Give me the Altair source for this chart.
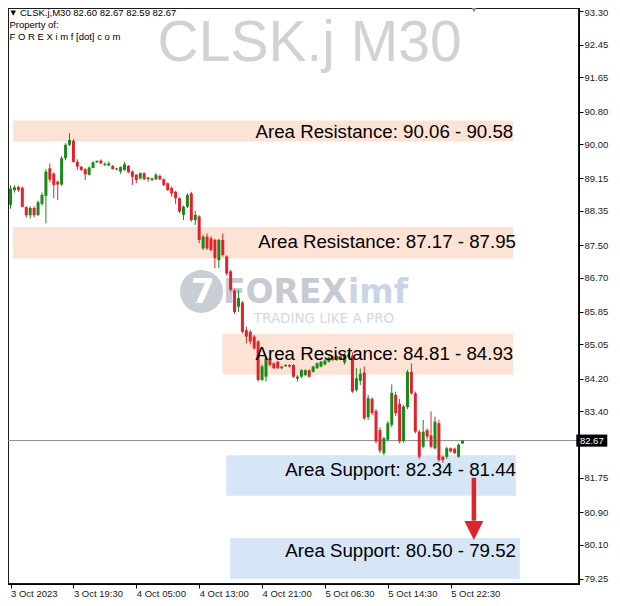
import json
import altair as alt
import pandas as pd

# ---------------- data ----------------
opens = [88.50, 88.86, 88.94, 88.92, 88.44, 88.24, 88.42, 88.25, 88.52, 88.72,
         89.40, 89.27, 89.07, 89.00, 89.65, 89.98, 90.08, 89.56, 89.44, 89.38,
         89.24, 89.41, 89.55, 89.59, 89.48, 89.47, 89.46, 89.37, 89.32, 89.36,
         89.46, 89.32, 89.24, 89.15, 89.28, 89.13, 89.15, 89.13, 89.21, 89.13,
         89.03, 88.91, 88.82, 88.66, 88.25, 88.45, 88.78, 88.12, 88.21, 87.42,
         87.71, 87.67, 87.63, 87.13, 87.63, 87.22, 86.85, 86.38, 85.98, 86.08,
         85.40, 85.36, 85.24, 85.12, 84.17, 84.25, 84.70, 84.58, 84.62, 84.46,
         84.51, 84.54, 84.54, 84.20, 84.25, 84.29, 84.41, 84.37, 84.46, 84.50,
         84.55, 84.62, 84.74, 84.66, 84.76, 84.60, 84.74, 84.76, 83.92, 84.15,
         84.35, 83.25, 83.70, 83.40, 82.93, 82.36, 82.69, 83.06, 83.80, 83.58,
         82.66, 83.50, 84.37, 83.84, 82.89, 82.52, 82.93, 82.80, 82.48, 83.10,
         82.27, 82.27, 82.48, 82.47, 82.27, 82.60]
highs = [88.98, 88.98, 88.97, 88.95, 88.46, 88.46, 88.46, 88.60, 88.80, 89.38,
         89.52, 89.30, 89.10, 89.70, 90.02, 90.27, 90.12, 89.62, 89.46, 89.40,
         89.44, 89.57, 89.60, 89.62, 89.55, 89.57, 89.48, 89.41, 89.45, 89.56,
         89.48, 89.35, 89.26, 89.30, 89.30, 89.19, 89.17, 89.28, 89.25, 89.15,
         89.05, 88.95, 88.84, 88.68, 88.48, 88.78, 88.82, 88.35, 88.24, 87.76,
         87.79, 87.72, 87.66, 87.66, 87.79, 87.25, 86.89, 86.42, 86.39, 86.12,
         85.49, 85.40, 85.28, 85.15, 84.55, 84.74, 84.72, 84.60, 84.64, 84.52,
         84.56, 84.56, 84.56, 84.29, 84.44, 84.43, 84.43, 84.52, 84.60, 84.64,
         84.68, 84.75, 84.77, 84.78, 84.78, 84.83, 84.85, 84.85, 84.46, 84.45,
         84.50, 83.80, 83.74, 83.45, 83.00, 82.76, 83.15, 84.06, 83.88, 83.70,
         83.55, 84.42, 84.58, 83.88, 82.93, 83.18, 82.97, 83.39, 83.26, 83.18,
         82.30, 82.52, 82.50, 82.50, 82.60, 82.67]
lows = [88.40, 88.80, 88.82, 88.43, 88.18, 88.16, 88.19, 88.22, 88.48, 88.04,
        89.05, 88.66, 88.62, 88.96, 89.60, 89.95, 89.54, 89.36, 89.33, 89.11,
        89.22, 89.40, 89.53, 89.50, 89.46, 89.45, 89.37, 89.35, 89.26, 89.34,
        89.28, 88.99, 89.03, 89.12, 89.11, 89.07, 89.09, 89.11, 89.11, 88.96,
        88.84, 88.70, 88.52, 88.29, 88.12, 88.42, 88.08, 88.00, 87.55, 87.38,
        87.38, 87.35, 86.93, 86.93, 87.22, 86.75, 86.35, 85.80, 85.85, 85.32,
        85.07, 85.05, 84.92, 84.13, 84.14, 84.13, 84.50, 84.44, 84.44, 84.43,
        84.49, 84.48, 84.22, 84.13, 84.22, 84.27, 84.23, 84.35, 84.44, 84.48,
        84.53, 84.60, 84.64, 84.64, 84.66, 84.55, 84.70, 83.85, 83.88, 84.04,
        83.18, 83.18, 83.30, 82.60, 82.36, 82.31, 82.65, 83.00, 83.28, 82.60,
        82.62, 83.45, 83.80, 82.85, 82.22, 82.48, 82.70, 82.48, 82.45, 82.15,
        82.12, 82.22, 82.38, 82.34, 82.25, 82.59]
closes = [88.90, 88.93, 88.86, 88.45, 88.24, 88.42, 88.24, 88.56, 88.74, 89.32,
          89.12, 88.99, 89.00, 89.65, 89.98, 90.10, 89.56, 89.44, 89.36, 89.25,
          89.42, 89.55, 89.58, 89.52, 89.51, 89.52, 89.38, 89.39, 89.43, 89.50,
          89.30, 89.19, 89.11, 89.28, 89.13, 89.17, 89.11, 89.24, 89.13, 88.99,
          88.86, 88.78, 88.66, 88.33, 88.45, 88.74, 88.12, 88.25, 87.63, 87.71,
          87.42, 87.38, 87.18, 87.63, 87.26, 86.80, 86.40, 85.85, 86.19, 85.36,
          85.24, 85.12, 84.95, 84.17, 84.50, 84.70, 84.54, 84.46, 84.46, 84.50,
          84.54, 84.50, 84.25, 84.25, 84.41, 84.41, 84.25, 84.50, 84.58, 84.62,
          84.65, 84.72, 84.66, 84.76, 84.68, 84.80, 84.80, 83.88, 84.21, 84.32,
          83.22, 83.72, 83.35, 82.65, 82.42, 82.73, 83.10, 83.85, 83.35, 82.65,
          83.51, 84.37, 83.84, 82.89, 82.27, 82.89, 82.77, 82.52, 83.14, 82.19,
          82.19, 82.48, 82.40, 82.36, 82.56, 82.67]

x_tick_values = [0, 16, 32, 48, 64, 80, 96, 112]
x_tick_labels = ["3 Oct 2023", "3 Oct 19:30", "4 Oct 05:00", "4 Oct 13:00",
                 "4 Oct 21:00", "5 Oct 06:30", "5 Oct 14:30", "5 Oct 22:30"]
y_tick_values = [93.30, 92.45, 91.65, 90.80, 90.00, 89.15, 88.35, 87.50, 86.70,
                 85.85, 85.05, 84.20, 83.40, 82.55, 81.75, 80.90, 80.10, 79.25]
hidden_y_label = 82.55

X_MIN, X_MAX = 0.625, 143.375
Y_MIN, Y_MAX = 79.126, 93.362

zone_kind = ["res", "res", "res", "sup", "sup"]
zone_start = [X_MIN, X_MIN, 53.9, 54.9, 55.9]
zone_end = [127.9, 127.9, 127.9, 128.6, 129.6]
zone_top = [90.58, 87.95, 85.31, 82.31, 80.26]
zone_bottom = [90.06, 87.17, 84.30, 81.31, 79.25]
zone_text = ["Area Resistance: 90.06 - 90.58", "Area Resistance: 87.17 - 87.95",
             "Area Resistance: 84.81 - 84.93", "Area Support: 82.34 - 81.44",
             "Area Support: 80.50 - 79.52"]
zone_text_x = [127.9, 128.6, 127.9, 128.6, 128.6]
zone_text_y = [90.29, 87.58, 84.82, 81.94, 79.94]

arrow_x = [117.9]
arrow_from = [81.75]
arrow_to = [80.69]
arrow_head = [80.45]

last_price = [82.67]
price_tag_x = [147.9]

symbol_header = "CLSK.j,M30  82.60 82.67 82.59 82.67"
title_text = "CLSK.j M30"

GREEN = "#178a17"
RED = "#e0232b"
RES_FILL = "#fde3d6"
SUP_FILL = "#d6e6f7"
FONT = "Liberation Sans"

# ---------------- tables ----------------
candles = pd.DataFrame({"i": list(range(len(opens))), "open": opens, "high": highs,
                        "low": lows, "close": closes})
candles["dir"] = ["up" if c >= o else "down" for o, c in zip(opens, closes)]
zones = pd.DataFrame({"kind": zone_kind, "x0": zone_start, "x1": zone_end,
                      "top": zone_top, "bottom": zone_bottom})
ztext = pd.DataFrame({"t": zone_text, "lx": zone_text_x, "ly": zone_text_y})
arrow = pd.DataFrame({"ax": arrow_x, "a1": arrow_from, "a2": arrow_to, "ah": arrow_head})
tag = pd.DataFrame({"px": price_tag_x, "p": last_price,
                    "t": [f"{v:.2f}" for v in last_price]})

xs = alt.Scale(domain=[X_MIN, X_MAX], nice=False, zero=False)
ys = alt.Scale(domain=[Y_MIN, Y_MAX], nice=False, zero=False)
x_label_expr = json.dumps(x_tick_labels) + "[floor(datum.value / 16)]"
y_label_expr = f"abs(datum.value - {hidden_y_label}) < 0.001 ? '' : format(datum.value, '.2f')"
xa = alt.Axis(values=x_tick_values, labelExpr=x_label_expr, labelAlign="left",
              labelFont=FONT, labelFontSize=9.5, labelColor="#1a1a1a",
              tickSize=4, tickColor="#000", domainColor="#000", grid=False,
              title=None, labelPadding=0, labelFlush=False, labelOverlap=False,
              labelBound=False)
ya = alt.Axis(orient="right", values=y_tick_values, labelExpr=y_label_expr,
              labelFont=FONT, labelFontSize=9.5, labelColor="#1a1a1a", tickSize=4,
              tickColor="#000", domainColor="#000", grid=False, title=None,
              labelPadding=1, labelFlush=False, labelOverlap=False, labelBound=False,
              labelOffset={"condition": {"test": "datum.value > 93", "value": 1.5},
                           "value": 0})
cdir = alt.Color("dir:N", scale=alt.Scale(domain=["up", "down"], range=[GREEN, RED]),
                 legend=None)


def txt(s, x, y, size, color, font=FONT, weight="normal", align="left",
        baseline="middle", opacity=1.0):
    return alt.Chart(pd.DataFrame({"t": [s]})).mark_text(
        align=align, baseline=baseline, font=font, fontSize=size,
        fontWeight=weight, color=color, opacity=opacity
    ).encode(text="t:N", x=alt.value(x), y=alt.value(y))


zone_layer = alt.Chart(zones).mark_rect().encode(
    x=alt.X("x0:Q", scale=xs, axis=xa), x2="x1",
    y=alt.Y("top:Q", scale=ys, axis=ya), y2="bottom",
    color=alt.Color("kind:N", scale=alt.Scale(domain=["res", "sup"],
                                              range=[RES_FILL, SUP_FILL]), legend=None),
)

title_layer = txt(title_text, 301.6, 53, 57, "#d2d2d2", baseline="alphabetic",
                  align="center")
logo = alt.Chart(pd.DataFrame({"a": [1]})).mark_point(
    shape="circle", filled=True, size=1849, color="#c9cdd5", opacity=1
).encode(x=alt.value(193.5), y=alt.value(283.5))
logo_mark = txt("7", 183, 285, 34, "#ffffff", font="DejaVu Sans", weight="bold")
wm1 = txt("FOREX", 215, 284.5, 33, "#c6cad3", font="DejaVu Sans", weight="bold")
wm2 = txt("imf", 340, 284.5, 33, "#cad4e5", font="DejaVu Sans", weight="bold")
wm3 = txt("TRADING LIKE A PRO", 316, 311, 13.5, "#d4d8df", font="DejaVu Sans",
          align="center")

price_line = alt.Chart(tag).mark_rule(color="#8a8a8a", strokeWidth=1).encode(
    y=alt.Y("p:Q", scale=ys, axis=ya)
)

wicks = alt.Chart(candles).mark_rule(strokeWidth=1).encode(
    x=alt.X("i:Q", scale=xs, axis=xa),
    y=alt.Y("low:Q", scale=ys, axis=ya), y2="high", color=cdir,
)
bodies = alt.Chart(candles).transform_calculate(
    b_lo="min(datum.open, datum.close)",
    b_hi="max(max(datum.open, datum.close), min(datum.open, datum.close) + 0.025)",
).mark_bar(size=3).encode(
    x=alt.X("i:Q", scale=xs, axis=xa),
    y=alt.Y("b_lo:Q", scale=ys, axis=ya), y2="b_hi:Q", color=cdir,
)

zone_labels = alt.Chart(ztext).mark_text(
    align="right", baseline="middle", font=FONT, fontSize=18.7, color="#000"
).encode(x=alt.X("lx:Q", scale=xs, axis=xa), y=alt.Y("ly:Q", scale=ys, axis=ya),
         text="t:N")

shaft = alt.Chart(arrow).mark_rule(color=RED, strokeWidth=4.5).encode(
    x=alt.X("ax:Q", scale=xs, axis=xa), y=alt.Y("a1:Q", scale=ys, axis=ya), y2="a2"
)
head = alt.Chart(arrow).mark_point(
    shape="M-1,-1L1,-1L0,1Z", filled=True, size=361, color=RED, opacity=1
).encode(x=alt.X("ax:Q", scale=xs, axis=xa), y=alt.Y("ah:Q", scale=ys, axis=ya))

hdr_tri = txt("\u25bc", 2.5, 4.5, 7, "#000", font="DejaVu Sans")
hdr1 = txt(symbol_header, 12, 4.5, 9.5, "#000")
hdr2 = txt("Property of:", 1.5, 17, 9.5, "#000")
hdr3 = txt("F O R E X i m f [dot] c o m", 1.5, 29, 9.5, "#000")
shift_marker = alt.Chart(pd.DataFrame({"a": [1]})).mark_point(
    shape="triangle-down", filled=True, size=30, color="#8a8a8a", opacity=1
).encode(x=alt.value(466), y=alt.value(2))

tag_box = alt.Chart(tag).mark_point(
    shape="M-1,-0.39L1,-0.39L1,0.39L-1,0.39Z", filled=True, size=961,
    color="#000", opacity=1
).encode(x=alt.X("px:Q", scale=xs, axis=xa), y=alt.Y("p:Q", scale=ys, axis=ya))
tag_text = alt.Chart(tag).mark_text(
    align="center", baseline="middle", font=FONT, fontSize=9.5, color="#fff"
).encode(x=alt.X("px:Q", scale=xs, axis=xa), y=alt.Y("p:Q", scale=ys, axis=ya),
         text="t:N")

chart = alt.layer(
    zone_layer, title_layer, logo, logo_mark, wm1, wm2, wm3, price_line,
    wicks, bodies, zone_labels, shaft, head, hdr_tri, hdr1, hdr2, hdr3,
    shift_marker, tag_box, tag_text,
).resolve_scale(color="independent").properties(
    width=571, height=576,
    autosize=alt.AutoSizeParams(type="none"),
    padding={"left": 0, "top": 0, "right": 33, "bottom": 14},
    background="#ffffff",
).configure_view(stroke="#1a1a1a", strokeWidth=2)

chart.save("out.html", embed_options={"renderer": "svg", "actions": False})
